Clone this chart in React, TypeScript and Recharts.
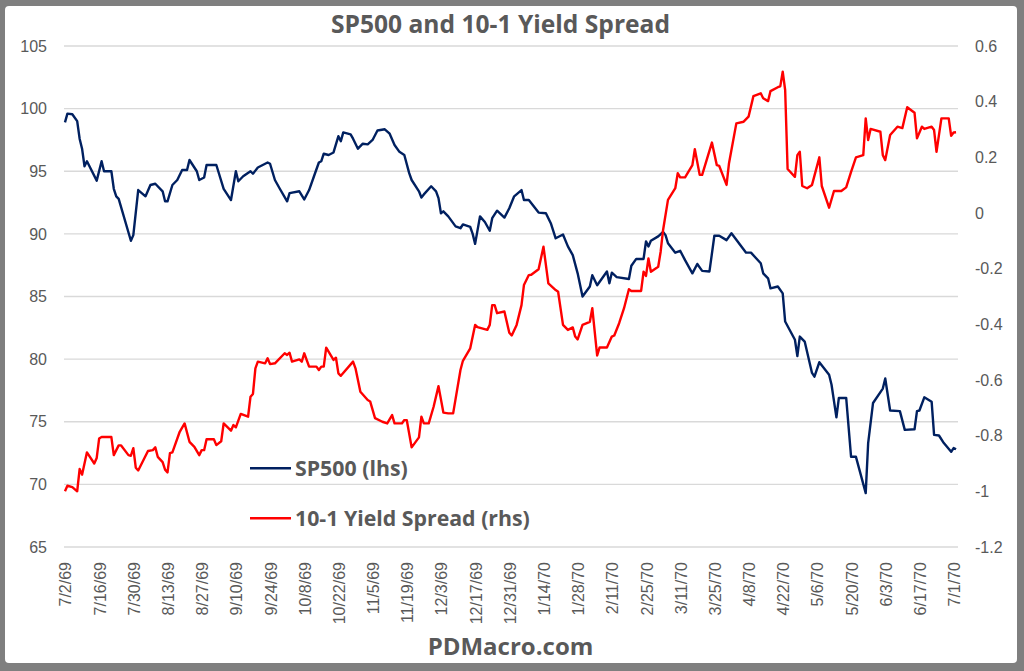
import React from 'react';
import { LineChart, Line, XAxis, YAxis, CartesianGrid, Legend } from 'recharts';

const sp500Dates = [
  '7/2/69','7/3/69','7/5/69','7/7/69','7/8/69','7/9/69','7/10/69','7/11/69','7/15/69','7/17/69','7/18/69','7/21/69','7/22/69','7/23/69','7/24/69','7/29/69','7/30/69',
  '8/1/69','8/4/69','8/6/69','8/8/69','8/11/69','8/12/69','8/13/69','8/15/69','8/17/69','8/19/69','8/21/69','8/22/69','8/25/69','8/26/69','8/28/69','8/29/69',
  '9/2/69','9/5/69','9/8/69','9/10/69','9/11/69','9/13/69','9/16/69','9/17/69','9/19/69','9/23/69','9/24/69','9/26/69','9/28/69',
  '10/1/69','10/2/69','10/6/69','10/8/69','10/10/69','10/12/69','10/14/69','10/15/69','10/16/69','10/18/69','10/20/69','10/22/69','10/23/69','10/24/69','10/27/69','10/28/69','10/30/69',
  '11/1/69','11/3/69','11/5/69','11/7/69','11/10/69','11/12/69','11/14/69','11/16/69','11/18/69','11/20/69','11/21/69','11/24/69','11/25/69','11/26/69','11/29/69',
  '12/1/69','12/2/69','12/3/69','12/4/69','12/6/69','12/9/69','12/11/69','12/12/69','12/15/69','12/16/69','12/17/69','12/19/69','12/21/69','12/23/69','12/24/69','12/26/69','12/29/69','12/31/69',
  '1/2/70','1/5/70','1/6/70','1/8/70','1/12/70','1/15/70','1/17/70','1/19/70','1/22/70','1/24/70','1/26/70','1/28/70','1/30/70',
  '2/2/70','2/3/70','2/5/70','2/9/70','2/10/70','2/11/70','2/13/70','2/18/70','2/19/70','2/21/70','2/24/70','2/25/70','2/26/70','2/27/70',
  '3/2/70','3/4/70','3/5/70','3/6/70','3/9/70','3/11/70','3/13/70','3/16/70','3/18/70','3/20/70','3/23/70','3/25/70','3/27/70','3/30/70',
  '4/1/70','4/7/70','4/9/70','4/13/70','4/14/70','4/16/70','4/17/70','4/20/70','4/22/70','4/23/70','4/27/70','4/28/70','4/29/70',
  '5/1/70','5/4/70','5/5/70','5/7/70','5/11/70','5/12/70','5/14/70','5/15/70','5/18/70','5/20/70','5/22/70','5/26/70','5/27/70','5/29/70',
  '6/2/70','6/3/70','6/5/70','6/9/70','6/11/70','6/15/70','6/16/70','6/17/70','6/19/70','6/22/70','6/23/70','6/25/70','6/27/70','6/30/70',
  '7/1/70','7/2/70',
];
const sp500Values = [
  98.9, 99.6, 99.55, 99.0, 97.6, 96.8, 95.4, 95.8, 94.25, 95.8, 95.0, 95.0, 93.6, 93.0, 92.8, 89.45, 89.9,
  93.5, 93.0, 93.9, 94.0, 93.4, 92.6, 92.6, 93.9, 94.3, 95.1, 95.1, 95.9, 95.0, 94.3, 94.5, 95.5,
  95.5, 93.6, 92.7, 95.0, 94.2, 94.6, 95.0, 94.8, 95.3, 95.7, 95.6, 94.3, 93.6,
  92.6, 93.25, 93.4, 92.75, 93.5, 94.6, 95.7, 95.8, 96.4, 96.3, 96.5, 97.8, 97.4, 98.1, 97.95, 97.6, 96.8,
  97.2, 97.15, 97.5, 98.25, 98.35, 98.0, 97.1, 96.55, 96.3, 94.85, 94.3, 93.4, 92.9, 93.15, 93.8,
  93.4, 92.85, 91.65, 91.8, 91.4, 90.6, 90.45, 90.75, 90.55, 90.0, 89.2, 91.4, 90.95, 90.25, 91.25, 91.85, 91.3, 92.05,
  93.0, 93.5, 92.7, 92.7, 91.7, 91.65, 90.85, 89.65, 89.95, 89.0, 88.3, 86.85, 85.0,
  85.8, 86.7, 85.9, 87.0, 86.05, 86.9, 86.55, 86.4, 87.45, 88.0, 88.0, 89.4, 89.0, 89.45,
  89.8, 90.15, 89.9, 89.25, 88.5, 88.65, 87.9, 86.85, 87.6, 87.05, 87.0, 89.85, 89.85, 89.5,
  90.05, 88.5, 88.5, 87.65, 86.85, 86.45, 85.65, 85.8, 85.25, 83.0, 81.55, 80.25, 81.8,
  81.4, 78.9, 78.6, 79.75, 78.75, 77.95, 75.35, 76.9, 76.9, 72.2, 72.2, 69.3, 73.3, 76.5,
  77.65, 78.45, 75.9, 75.85, 74.35, 74.4, 75.85, 75.9, 76.95, 76.6, 73.95, 73.9, 73.3, 72.6,
  72.9, 72.8,
];

const spreadDates = [
  '7/2/69','7/3/69','7/5/69','7/7/69','7/8/69','7/9/69','7/11/69','7/14/69','7/15/69','7/16/69','7/17/69','7/21/69','7/22/69','7/24/69','7/25/69','7/28/69','7/29/69','7/30/69','7/31/69',
  '8/1/69','8/5/69','8/7/69','8/8/69','8/9/69','8/11/69','8/12/69','8/13/69','8/14/69','8/15/69','8/18/69','8/20/69','8/22/69','8/24/69','8/26/69','8/27/69','8/28/69','8/29/69',
  '9/1/69','9/2/69','9/4/69','9/5/69','9/8/69','9/9/69','9/10/69','9/12/69','9/15/69','9/16/69','9/17/69','9/18/69','9/19/69','9/22/69','9/23/69','9/24/69','9/26/69','9/30/69',
  '10/1/69','10/2/69','10/3/69','10/6/69','10/7/69','10/8/69','10/10/69','10/13/69','10/14/69','10/15/69','10/16/69','10/17/69','10/20/69','10/21/69','10/22/69','10/23/69','10/28/69','10/29/69','10/31/69',
  '11/3/69','11/4/69','11/6/69','11/9/69','11/11/69','11/13/69','11/14/69','11/17/69','11/18/69','11/19/69','11/21/69','11/24/69','11/25/69','11/26/69','11/28/69','11/30/69',
  '12/2/69','12/4/69','12/6/69','12/8/69','12/11/69','12/12/69','12/15/69','12/17/69','12/18/69','12/22/69','12/23/69','12/24/69','12/25/69','12/26/69','12/29/69','12/31/69',
  '1/1/70','1/3/70','1/5/70','1/6/70','1/8/70','1/9/70','1/12/70','1/14/70','1/16/70','1/19/70','1/20/70','1/22/70','1/24/70','1/26/70','1/27/70','1/28/70','1/30/70',
  '2/2/70','2/3/70','2/5/70','2/6/70','2/9/70','2/11/70','2/12/70','2/14/70','2/16/70','2/18/70','2/19/70','2/23/70','2/24/70','2/25/70','2/26/70','2/27/70',
  '3/2/70','3/3/70','3/4/70','3/6/70','3/9/70','3/10/70','3/11/70','3/13/70','3/16/70','3/17/70','3/19/70','3/20/70','3/24/70','3/26/70','3/27/70','3/30/70','3/31/70',
  '4/3/70','4/6/70','4/8/70','4/10/70','4/13/70','4/14/70','4/16/70','4/17/70','4/20/70','4/21/70','4/22/70','4/23/70','4/24/70','4/27/70','4/28/70','4/29/70','4/30/70',
  '5/2/70','5/4/70','5/7/70','5/8/70','5/11/70','5/13/70','5/16/70','5/18/70','5/20/70','5/22/70','5/25/70','5/26/70','5/27/70','5/28/70',
  '6/1/70','6/2/70','6/3/70','6/5/70','6/8/70','6/10/70','6/12/70','6/15/70','6/16/70','6/18/70','6/19/70','6/22/70','6/23/70','6/24/70','6/26/70','6/29/70','6/30/70',
  '7/1/70','7/2/70',
];
const spreadValues = [
  -1.0, -0.98, -0.985, -1.0, -0.92, -0.94, -0.86, -0.9, -0.88, -0.81, -0.805, -0.805, -0.87, -0.835, -0.835, -0.87, -0.872, -0.845, -0.915,
  -0.925, -0.855, -0.852, -0.842, -0.876, -0.895, -0.922, -0.932, -0.863, -0.86, -0.786, -0.756, -0.822, -0.84, -0.87, -0.852, -0.852, -0.813,
  -0.813, -0.834, -0.82, -0.756, -0.782, -0.762, -0.77, -0.722, -0.732, -0.66, -0.65, -0.558, -0.534, -0.54, -0.522, -0.543, -0.54, -0.504,
  -0.51, -0.502, -0.534, -0.526, -0.534, -0.504, -0.552, -0.552, -0.564, -0.552, -0.552, -0.484, -0.528, -0.52, -0.576, -0.585, -0.534, -0.558, -0.642,
  -0.672, -0.677, -0.737, -0.75, -0.756, -0.726, -0.756, -0.756, -0.744, -0.744, -0.842, -0.806, -0.732, -0.756, -0.756, -0.696,
  -0.622, -0.717, -0.72, -0.72, -0.564, -0.531, -0.486, -0.402, -0.41, -0.42, -0.402, -0.331, -0.331, -0.36, -0.354, -0.43,
  -0.44, -0.402, -0.331, -0.259, -0.223, -0.222, -0.202, -0.121, -0.253, -0.277, -0.283, -0.402, -0.42, -0.411, -0.444, -0.454, -0.402,
  -0.391, -0.342, -0.512, -0.483, -0.483, -0.444, -0.44, -0.396, -0.342, -0.274, -0.28, -0.28, -0.211, -0.226, -0.163, -0.211,
  -0.193, -0.139, -0.061, 0.047, 0.089, 0.143, 0.128, 0.128, 0.172, 0.229, 0.137, 0.137, 0.253, 0.172, 0.169, 0.101, 0.179,
  0.322, 0.328, 0.346, 0.42, 0.43, 0.412, 0.402, 0.438, 0.452, 0.455, 0.508, 0.442, 0.158, 0.13, 0.208, 0.22, 0.097,
  0.089, 0.101, 0.2, 0.097, 0.019, 0.079, 0.079, 0.092, 0.148, 0.2, 0.208, 0.34, 0.262, 0.302,
  0.292, 0.208, 0.19, 0.28, 0.31, 0.305, 0.38, 0.36, 0.268, 0.31, 0.302, 0.31, 0.298, 0.22, 0.34, 0.34, 0.277,
  0.289, 0.29,
];

const xTickLabels = [
  '7/2/69','7/16/69','7/30/69','8/13/69','8/27/69','9/10/69','9/24/69','10/8/69','10/22/69','11/5/69','11/19/69','12/3/69','12/17/69','12/31/69',
  '1/14/70','1/28/70','2/11/70','2/25/70','3/11/70','3/25/70','4/8/70','4/22/70','5/6/70','5/20/70','6/3/70','6/17/70','7/1/70',
];
const leftTicks = [65, 70, 75, 80, 85, 90, 95, 100, 105];
const rightTicks = [-1.2, -1.0, -0.8, -0.6, -0.4, -0.2, 0, 0.2, 0.4, 0.6];

const seriesNames = ['SP500 (lhs)', '10-1 Yield Spread (rhs)'];
const seriesColors = ['#002060', '#ff0000'];

const BASE = Date.UTC(1969, 6, 2);
const toDay = (s: string) => {
  const [m, d, y] = s.split('/').map(Number);
  return Math.round((Date.UTC(1900 + y, m - 1, d) - BASE) / 86400000);
};

const rowsMap = new Map<number, any>();
sp500Dates.forEach((d, i) => {
  const k = toDay(d);
  const r = rowsMap.get(k) || { day: k };
  r.sp = sp500Values[i];
  rowsMap.set(k, r);
});
spreadDates.forEach((d, i) => {
  const k = toDay(d);
  const r = rowsMap.get(k) || { day: k };
  r.spread = spreadValues[i];
  rowsMap.set(k, r);
});
const chartData = Array.from(rowsMap.values()).sort((a, b) => a.day - b.day);

const xTickDays = xTickLabels.map(toDay);
const labelByDay = new Map<number, string>(xTickLabels.map((l) => [toDay(l), l]));

const AXIS_FONT = '"Liberation Sans", Arial, sans-serif';
const BOLD_FONT = '"Open Sans", "Noto Sans", sans-serif';
const TEXT_GREY = '#595959';

const XTick = (props: any) => {
  const { x, y, payload } = props;
  return (
    <text
      x={x + 1}
      y={y}
      transform={`rotate(-90, ${x + 1}, ${y})`}
      textAnchor="end"
      dominantBaseline="central"
      fill={TEXT_GREY}
      fontSize={16}
      fontFamily={AXIS_FONT}
    >
      {labelByDay.get(payload.value) ?? ''}
    </text>
  );
};

const LegendContent = () => (
  <svg width={320} height={100} style={{ display: 'block' }}>
    {seriesNames.map((name, i) => (
      <g key={name}>
        <line x1={10} x2={51} y1={28.3 + i * 50} y2={28.3 + i * 50} stroke={seriesColors[i]} strokeWidth={2.5} />
        <text x={55} y={35.8 + i * 50} fill={TEXT_GREY} fontSize={21.3} fontWeight={700} fontFamily={BOLD_FONT}>
          {name}
        </text>
      </g>
    ))}
  </svg>
);

export default function App() {
  return (
    <div style={{ position: 'absolute', left: 0, top: 0, width: 1024, height: 671, background: '#7f7f7f', overflow: 'hidden' }}>
      <div style={{ position: 'absolute', left: 5, top: 6, width: 1012, height: 657, background: '#ffffff', borderRadius: 4 }} />
      <div style={{ position: 'absolute', left: 0, top: 0 }}>
        <LineChart width={1024} height={671} data={chartData} margin={{ top: 46, right: 0, bottom: 0, left: 0 }}>
          <CartesianGrid yAxisId="left" vertical={false} stroke="#d9d9d9" strokeWidth={1.3} />
          <XAxis
            dataKey="day"
            type="number"
            domain={[-0.4, 365.8]}
            ticks={xTickDays}
            interval={0}
            height={124}
            axisLine={false}
            tickLine={false}
            tickSize={6}
            tickMargin={9}
            tick={<XTick />}
          />
          <YAxis
            yAxisId="left"
            domain={[65, 105]}
            ticks={leftTicks}
            width={64}
            axisLine={false}
            tickLine={false}
            tickSize={6}
            tickMargin={11}
            tick={{ fill: TEXT_GREY, fontSize: 16, fontFamily: AXIS_FONT }}
          />
          <YAxis
            yAxisId="right"
            orientation="right"
            domain={[-1.2, 0.6]}
            ticks={rightTicks}
            width={66}
            axisLine={false}
            tickLine={false}
            tickSize={6}
            tickMargin={11}
            tickFormatter={(v: number) => String(Number(v.toFixed(1)))}
            tick={{ fill: TEXT_GREY, fontSize: 16, fontFamily: AXIS_FONT, textAnchor: 'start' }}
          />
          <Legend
            layout="horizontal"
            verticalAlign="middle"
            align="center"
            content={<LegendContent />}
            wrapperStyle={{ position: 'absolute', left: 240, top: 440, width: 320, height: 100 }}
          />
          <Line
            yAxisId="left"
            dataKey="sp"
            name={seriesNames[0]}
            stroke={seriesColors[0]}
            strokeWidth={2.4}
            dot={false}
            connectNulls
            isAnimationActive={false}
            strokeLinejoin="round"
          />
          <Line
            yAxisId="right"
            dataKey="spread"
            name={seriesNames[1]}
            stroke={seriesColors[1]}
            strokeWidth={2.4}
            dot={false}
            connectNulls
            isAnimationActive={false}
            strokeLinejoin="round"
          />
        </LineChart>
      </div>
      <svg width={1024} height={671} style={{ position: 'absolute', left: 0, top: 0, pointerEvents: 'none' }}>
        <text x={500.5} y={33.3} textAnchor="middle" fill={TEXT_GREY} fontSize={24.6} fontWeight={700} fontFamily={BOLD_FONT}>
          SP500 and 10-1 Yield Spread
        </text>
        <text x={510.5} y={655} textAnchor="middle" fill={TEXT_GREY} fontSize={24} fontWeight={700} fontFamily={BOLD_FONT}>
          PDMacro.com
        </text>
      </svg>
    </div>
  );
}
